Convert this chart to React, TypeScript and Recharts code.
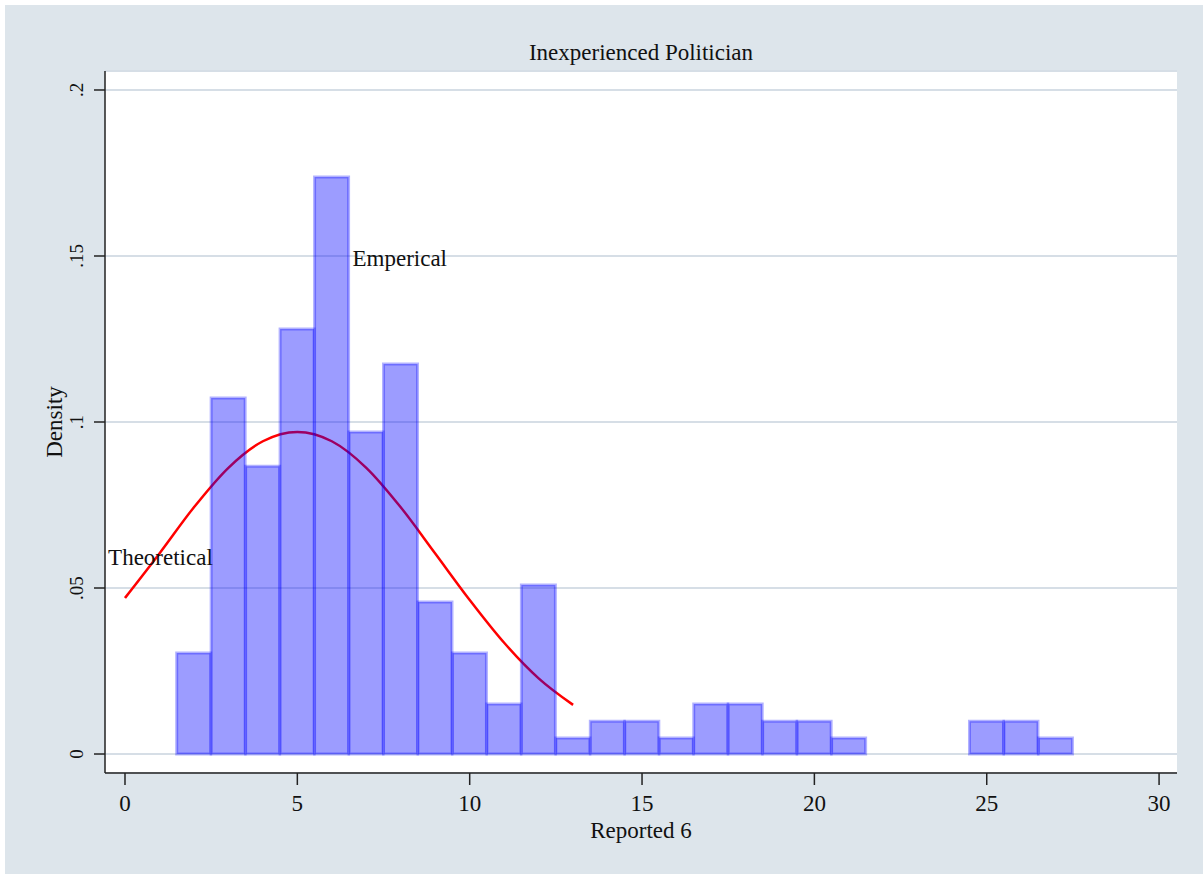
import React from 'react';
import {
  ComposedChart,
  Bar,
  Line,
  XAxis,
  YAxis,
  CartesianGrid,
  ReferenceDot,
} from 'recharts';

// histogram bins (bin centre -> density)
const binCenters = [2, 3, 4, 5, 6, 7, 8, 9, 10, 11, 12, 13, 14, 15, 16, 17, 18, 19, 20, 21, 22, 23, 24, 25, 26, 27];
const binDensity = [
  0.0304, 0.1072, 0.0867, 0.128, 0.1738, 0.097, 0.1175, 0.0458, 0.0304, 0.0151, 0.0509, 0.0048, 0.0099,
  0.0099, 0.0048, 0.0151, 0.0151, 0.0099, 0.0099, 0.0048, 0, 0, 0, 0.0099, 0.0099, 0.0048,
];

// theoretical curve
const curveX = [0, 1, 2, 3, 4, 5, 6, 7, 8, 9, 10, 11, 12, 13];
const curveY = [0.047, 0.0604, 0.0743, 0.0862, 0.0942, 0.097, 0.0942, 0.0862, 0.0743, 0.0604, 0.0464, 0.0335, 0.0228, 0.0148];

const xTicks = [0, 5, 10, 15, 20, 25, 30];
const yTicks = [0, 0.05, 0.1, 0.15, 0.2];
const yTickLabels = ['0', '.05', '.1', '.15', '.2'];

const FONT = '"Liberation Serif", "Times New Roman", serif';
const BG = '#dde5eb';

const allX = Array.from(new Set([...curveX, ...binCenters])).sort((a, b) => a - b);
const data = allX.map((x) => {
  const bi = binCenters.indexOf(x);
  const ci = curveX.indexOf(x);
  return {
    x,
    density: bi >= 0 ? binDensity[bi] : null,
    theory: ci >= 0 ? curveY[ci] : null,
  };
});

const XTick = ({ x, y, payload }: any) => (
  <text x={x} y={y + 24} textAnchor="middle" fontFamily={FONT} fontSize={23} fill="#111">
    {payload.value}
  </text>
);

const YTick = ({ x, y, payload }: any) => {
  const i = yTicks.indexOf(payload.value);
  return (
    <text
      x={x - 9}
      y={y}
      transform={`rotate(-90 ${x - 9} ${y})`}
      textAnchor="middle"
      fontFamily={FONT}
      fontSize={19}
      fill="#111"
    >
      {i >= 0 ? yTickLabels[i] : payload.value}
    </text>
  );
};

const textAt = (label: string) => (props: any) => (
  <text x={props.cx} y={props.cy} fontFamily={FONT} fontSize={23} fill="#111">
    {label}
  </text>
);

export default function App() {
  return (
    <div style={{ position: 'absolute', left: 0, top: 0, width: 1203, height: 874, background: '#fff' }}>
      <div style={{ position: 'absolute', left: 5, top: 5, width: 1198, height: 869, background: BG }} />
      <div style={{ position: 'absolute', left: 0, top: 0 }}>
        <ComposedChart
          width={1203}
          height={874}
          data={data}
          margin={{ top: 71, right: 26, left: 45, bottom: 41 }}
          barCategoryGap={0}
          barGap={0}
        >
          <CartesianGrid horizontal vertical={false} stroke="#d6dee6" strokeWidth={2} fill="#fff" />
          <XAxis
            dataKey="x"
            type="number"
            domain={[-0.58, 30.52]}
            allowDataOverflow
            ticks={xTicks}
            interval={0}
            height={60}
            tickSize={12}
            tick={<XTick />}
            axisLine={{ stroke: '#222', strokeWidth: 1.5 }}
            tickLine={{ stroke: '#222', strokeWidth: 1.5 }}
            label={{
              content: ({ viewBox }: any) => (
                <text
                  x={viewBox.x + viewBox.width / 2}
                  y={viewBox.y + 65}
                  textAnchor="middle"
                  fontFamily={FONT}
                  fontSize={23}
                  fill="#111"
                >
                  Reported 6
                </text>
              ),
            }}
          />
          <YAxis
            type="number"
            domain={[-0.00572, 0.20572]}
            allowDataOverflow
            ticks={yTicks}
            interval={0}
            width={60}
            tickSize={11}
            tick={<YTick />}
            axisLine={{ stroke: '#222', strokeWidth: 1.5 }}
            tickLine={{ stroke: '#222', strokeWidth: 1.5 }}
            label={{
              content: ({ viewBox }: any) => {
                const cx = 62;
                const cy = viewBox.y + viewBox.height / 2;
                return (
                  <text
                    x={cx}
                    y={cy}
                    transform={`rotate(-90 ${cx} ${cy})`}
                    textAnchor="middle"
                    fontFamily={FONT}
                    fontSize={23}
                    fill="#111"
                  >
                    Density
                  </text>
                );
              },
            }}
          />
          <Line
            dataKey="theory"
            type="monotone"
            stroke="#ff0000"
            strokeWidth={2.5}
            dot={false}
            activeDot={false}
            isAnimationActive={false}
            zIndex={250}
          />
          <Bar
            dataKey="density"
            fill="#0000ff"
            fillOpacity={0.39}
            stroke="#0000ff"
            strokeOpacity={0.3}
            strokeWidth={3}
            isAnimationActive={false}
          />
          <ReferenceDot x={6.6} y={0.147} r={0} shape={textAt('Emperical')} />
          <ReferenceDot x={-0.49} y={0.0569} r={0} shape={textAt('Theoretical')} />
          <text x={641} y={60} textAnchor="middle" fontFamily={FONT} fontSize={23} fill="#111">
            Inexperienced Politician
          </text>
        </ComposedChart>
      </div>
    </div>
  );
}
